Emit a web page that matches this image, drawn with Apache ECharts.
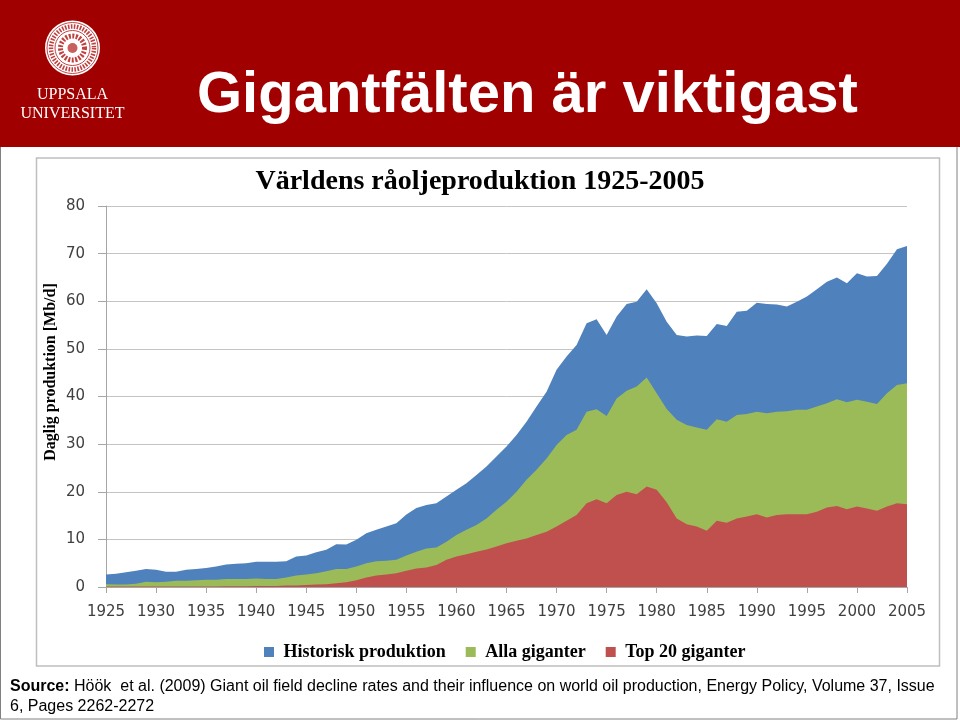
<!DOCTYPE html>
<html>
<head>
<meta charset="utf-8">
<script src="https://cdn.jsdelivr.net/npm/echarts@6/dist/echarts.min.js"></script>
<style>
html,body{margin:0;padding:0;background:#fff;}
#c{width:960px;height:720px;}
</style>
</head>
<body>
<div id="c"></div>
<script>
// ---- data ----
var years = [];
for (var y = 1925; y <= 2005; y++) years.push(String(y));

var historisk = [
 2.6, 2.8, 3.1, 3.4, 3.8, 3.6, 3.2, 3.2, 3.6, 3.8,
 4.0, 4.3, 4.7, 4.9, 5.0, 5.3, 5.3, 5.3, 5.4, 6.4,
 6.6, 7.3, 7.8, 9.0, 8.9, 9.9, 11.3, 12.0, 12.7, 13.4,
 15.2, 16.6, 17.2, 17.6, 19.0, 20.4, 21.8, 23.5, 25.3, 27.4,
 29.5, 31.9, 34.7, 37.9, 41.0, 45.6, 48.4, 50.8, 55.4, 56.2,
 52.9, 56.8, 59.4, 59.9, 62.5, 59.6, 55.7, 52.9, 52.6, 52.8,
 52.7, 55.2, 54.8, 57.8, 58.0, 59.7, 59.4, 59.3, 58.9, 59.9,
 61.0, 62.5, 64.1, 65.0, 63.8, 65.9, 65.2, 65.3, 67.9, 70.9,
 71.6
];
var allaGiganter = [
 0.6, 0.55, 0.5, 0.7, 1.1, 1.0, 1.1, 1.3, 1.3, 1.4,
 1.5, 1.5, 1.7, 1.7, 1.7, 1.8, 1.7, 1.7, 2.0, 2.4,
 2.6, 2.9, 3.3, 3.8, 3.8, 4.3, 5.0, 5.4, 5.5, 5.7,
 6.6, 7.4, 8.1, 8.3, 9.5, 10.9, 12.0, 13.0, 14.4, 16.2,
 17.9, 20.0, 22.5, 24.6, 27.0, 29.8, 31.9, 33.0, 36.8, 37.3,
 35.9, 39.6, 41.2, 42.1, 44.0, 40.7, 37.4, 35.1, 34.0, 33.5,
 33.0, 35.2, 34.7, 36.1, 36.3, 36.8, 36.5, 36.8, 36.9, 37.2,
 37.2, 37.9, 38.6, 39.4, 38.8, 39.3, 38.9, 38.4, 40.7, 42.4,
 42.8
];
var top20 = [
 0.1, 0.1, 0.1, 0.1, 0.1, 0.1, 0.1, 0.1, 0.1, 0.1,
 0.1, 0.1, 0.15, 0.15, 0.15, 0.2, 0.2, 0.2, 0.3, 0.3,
 0.4, 0.5, 0.6, 0.8, 1.0, 1.4, 2.0, 2.4, 2.6, 2.9,
 3.4, 3.9, 4.1, 4.6, 5.7, 6.4, 6.9, 7.4, 7.9, 8.5,
 9.2, 9.7, 10.2, 10.9, 11.6, 12.7, 13.9, 15.1, 17.6, 18.4,
 17.6, 19.3, 20.0, 19.5, 21.1, 20.4, 17.8, 14.4, 13.2, 12.7,
 11.8, 13.9, 13.5, 14.4, 14.8, 15.3, 14.6, 15.1, 15.3, 15.3,
 15.3, 15.8, 16.7, 17.0, 16.3, 16.9, 16.5, 16.0, 16.9, 17.6,
 17.4
];
var seriesNames = ['Historisk produktion', 'Alla giganter', 'Top 20 giganter'];
var seriesColors = ['#4F81BD', '#9BBB59', '#C0504D'];

var slideTitle = 'Gigantfälten är viktigast';
var chartTitle = 'Världens råoljeproduktion 1925-2005';
var yAxisName = 'Daglig produktion [Mb/d]';
var sourceLine1 = ' Höök  et al. (2009) Giant oil field decline rates and their influence on world oil production, Energy Policy, Volume 37, Issue';
var sourceLine2 = '6, Pages 2262-2272';

// ---- chart ----
var chart = echarts.init(document.getElementById('c'), null, {renderer: 'canvas'});

function areaSeries(name, data, color) {
  return {
    name: name,
    type: 'line',
    data: data,
    symbol: 'none',
    showSymbol: false,
    lineStyle: {width: 0, color: color},
    itemStyle: {color: color},
    areaStyle: {color: color, opacity: 1},
    emphasis: {disabled: true}
  };
}

var serif = '"Liberation Serif", "Times New Roman", serif';
var sans = '"Liberation Sans", Arial, sans-serif';

var option = {
  animation: false,
  backgroundColor: '#ffffff',
  grid: {left: 106, right: 53, top: 206, bottom: 133, containLabel: false},
  legend: {
    data: seriesNames,
    left: 259,
    top: 638,
    icon: 'rect',
    itemWidth: 10,
    itemHeight: 10,
    itemGap: 20,
    formatter: function (n) { return ' ' + n; },
    textStyle: {fontFamily: serif, fontWeight: 'bold', fontSize: 18, color: '#000'}
  },
  xAxis: {
    type: 'category',
    data: years,
    boundaryGap: false,
    axisLine: {lineStyle: {color: '#A6A6A6', width: 1}},
    axisTick: {interval: 4, length: 6, lineStyle: {color: '#A6A6A6'}},
    axisLabel: {interval: 4, margin: 18, fontFamily: '"DejaVu Sans", Verdana, sans-serif', fontSize: 15, color: '#404040'},
    splitLine: {show: false}
  },
  yAxis: {
    type: 'value',
    min: 0, max: 80, interval: 10,
    axisLine: {show: true, lineStyle: {color: '#A6A6A6', width: 1}},
    axisTick: {show: true, length: 8, lineStyle: {color: '#A6A6A6'}},
    axisLabel: {margin: 21, fontFamily: '"DejaVu Sans", Verdana, sans-serif', fontSize: 15, color: '#404040'},
    splitLine: {lineStyle: {color: '#C4C4C4', width: 1}}
  },
  series: [
    areaSeries(seriesNames[0], historisk, seriesColors[0]),
    areaSeries(seriesNames[1], allaGiganter, seriesColors[1]),
    areaSeries(seriesNames[2], top20, seriesColors[2])
  ],
  graphic: [
    // red banner
    {type: 'rect', z: 0, shape: {x: 0, y: 0, width: 960, height: 147}, style: {fill: '#A00000'}},
    // slide frame
    {type: 'polyline', z: 0, shape: {points: [[0.5, 147], [0.5, 719], [957, 719], [957, 147]]}, style: {stroke: '#808080', lineWidth: 1, fill: null}},
    // seal
    {type: 'circle', z: 1, shape: {cx: 72.5, cy: 48, r: 27.5}, style: {fill: '#FFFFFF'}},
    {type: 'circle', z: 2, shape: {cx: 72.5, cy: 48, r: 25.5}, style: {fill: null, stroke: '#B01818', lineWidth: 0.8}},
    {type: 'circle', z: 2, shape: {cx: 72.5, cy: 48, r: 21.5}, style: {fill: null, stroke: '#C04040', lineWidth: 4.5, lineDash: [1.6, 1.4]}},
    {type: 'circle', z: 2, shape: {cx: 72.5, cy: 48, r: 17.5}, style: {fill: null, stroke: '#B01818', lineWidth: 0.8}},
    {type: 'circle', z: 2, shape: {cx: 72.5, cy: 48, r: 12}, style: {fill: null, stroke: '#C04040', lineWidth: 5, lineDash: [2, 1.5]}},
    {type: 'circle', z: 2, shape: {cx: 72.5, cy: 48, r: 5}, style: {fill: '#C86060'}},
    {type: 'text', z: 2, style: {x: 72.5, y: 94.5, text: 'UPPSALA', fill: '#FFFFFF', font: '16px ' + serif, align: 'center', verticalAlign: 'middle'}},
    {type: 'text', z: 2, style: {x: 72.5, y: 113.5, text: 'UNIVERSITET', fill: '#FFFFFF', font: '16px ' + serif, align: 'center', verticalAlign: 'middle'}},
    // slide title
    {type: 'text', z: 2, style: {x: 197, y: 96, text: slideTitle, fill: '#FFFFFF', font: 'bold 58px ' + sans, align: 'left', verticalAlign: 'middle'}},
    // chart box
    {type: 'rect', z: 0, shape: {x: 36.5, y: 158, width: 903, height: 508}, style: {fill: null, stroke: '#BEBEBE', lineWidth: 1.5}},
    // chart title
    {type: 'text', z: 2, style: {x: 480, y: 182, text: chartTitle, fill: '#000', font: 'bold 28px ' + serif, align: 'center', verticalAlign: 'middle'}},
    // y axis name
    {type: 'text', z: 2, x: 51, y: 372, rotation: Math.PI / 2,
     style: {x: 0, y: 0, text: yAxisName, fill: '#000', font: 'bold 16px ' + serif, align: 'center', verticalAlign: 'middle'}},
    // source
    {type: 'text', z: 2, style: {x: 10, y: 686.5, text: '{b|Source:}{n|' + sourceLine1 + '}', fill: '#000', font: '16px ' + sans, align: 'left', verticalAlign: 'middle',
      rich: {b: {fontFamily: sans, fontWeight: 'bold', fontSize: 16, fill: '#000'}, n: {fontFamily: sans, fontSize: 16, fill: '#000'}}}},
    {type: 'text', z: 2, style: {x: 10, y: 706.5, text: sourceLine2, fill: '#000', font: '16px ' + sans, align: 'left', verticalAlign: 'middle'}}
  ]
};
chart.setOption(option);
</script>
</body>
</html>
